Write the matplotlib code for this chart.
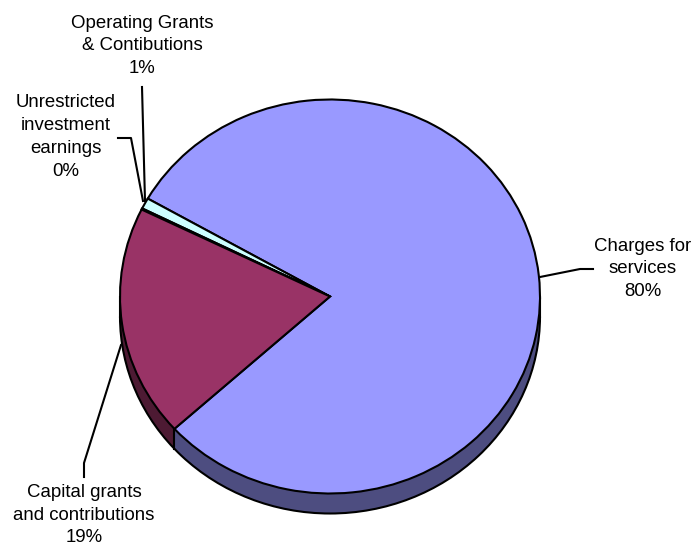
import matplotlib.pyplot as plt
from matplotlib.patches import Arc
import numpy as np

# slice data (counter-clockwise from the start angle)
names = ['Charges for\nservices', 'Operating Grants\n& Contibutions',
         'Unrestricted\ninvestment\nearnings', 'Capital grants\nand contributions']
values = [80.0, 0.9, 0.1, 19.0]
top_colors = ['#9999FF', '#CCFFFF', '#FFFFCC', '#993366']
side_colors = ['#4D4D80', '#668080', '#808066', '#4D1A33']

start = 222.2
W, H = 693, 546
cx, cy, rx, ry = 330, 296.5, 210, 197
depth = 20 / ry


def pos(px, py):
    # pixel position -> data coords
    return (px - cx) / rx, (cy - py) / ry


fig = plt.figure(figsize=(W / 100, H / 100), dpi=100)
ax = fig.add_axes([0, 0, 1, 1])

# side wall: stack of darker pies
for t in np.linspace(1, 0, 45):
    ax.pie(values, colors=side_colors, startangle=start, counterclock=True,
           center=(0, -depth * t), radius=1,
           wedgeprops=dict(linewidth=0, antialiased=True))

# bottom rim outline
ax.add_patch(Arc((0, -depth), 2, 2, theta1=180, theta2=360,
                 color='black', linewidth=1.5, zorder=5))

# vertical edges on the front side
edge_angles = [180, 360, start]
for a in edge_angles:
    x = np.cos(np.radians(a))
    y = np.sin(np.radians(a))
    ax.plot([x, x], [y, y - depth], color='black', linewidth=1.5, zorder=5)

# top face
wedges, _ = ax.pie(values, colors=top_colors, startangle=start, counterclock=True,
                   center=(0, 0), radius=1,
                   wedgeprops=dict(edgecolor='black', linewidth=1.5))
for w in wedges:
    w.set_zorder(6)

# leader lines
leaders = [
    [(540, 277), (580, 269), (593, 269)],
    [(142, 87), (145, 201)],
    [(118, 138), (131, 138), (143, 201)],
    [(121, 345), (84, 463), (84, 477)],
]
for pts in leaders:
    xy = np.array([pos(*p) for p in pts])
    ax.plot(xy[:, 0], xy[:, 1], color='black', linewidth=1.5, zorder=7)

# labels
label_pos = [(643, 269), (142, 46), (66, 137), (84, 515)]
pcts = ['80%', '1%', '0%', '19%']
for name, pc, (px, py) in zip(names, pcts, label_pos):
    x, y = pos(px, py)
    ax.text(x, y, name + '\n' + pc, ha='center', va='center',
            fontsize=13.4, family='Liberation Sans', linespacing=1.45,
            color='black', zorder=8)

ax.set_aspect('auto')
ax.set_xlim(-cx / rx, (W - cx) / rx)
ax.set_ylim(-(H - cy) / ry, cy / ry)
ax.axis('off')

plt.savefig('out.png', dpi=100, facecolor='white')
